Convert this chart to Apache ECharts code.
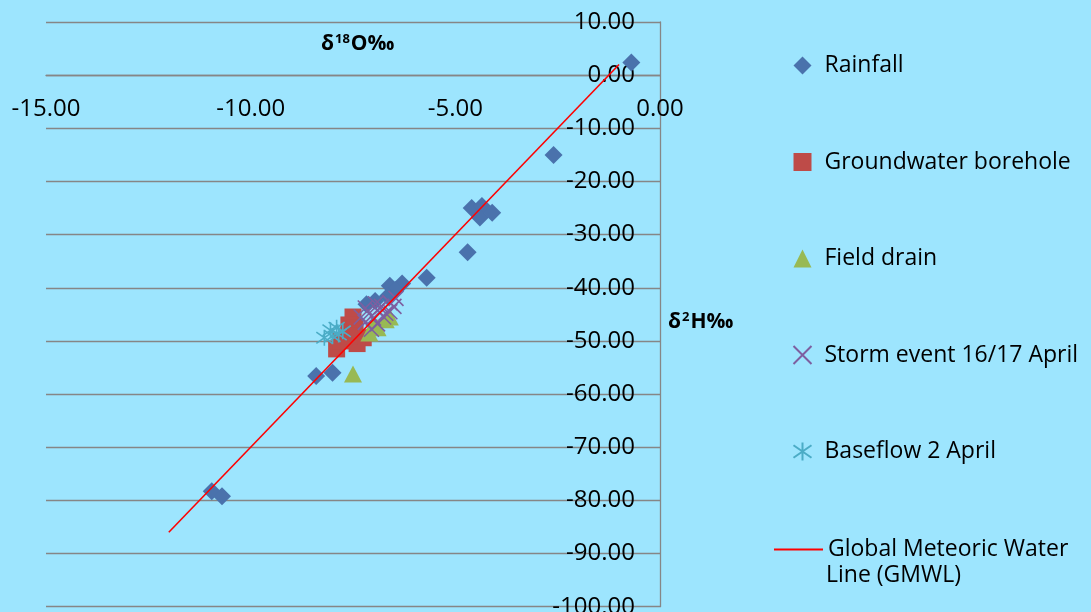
<!DOCTYPE html>
<html>
<head>
<meta charset="utf-8">
<script src="https://cdn.jsdelivr.net/npm/echarts@6/dist/echarts.min.js"></script>
<style>
html,body{margin:0;padding:0;background:#9DE5FE;}
#chart{width:1091px;height:612px;}
</style>
</head>
<body>
<div id="chart"></div>
<script>
// δ18O (x), δ2H (y)
var rainfall = [
  [-0.7, 2.4], [-2.6, -15.0], [-4.6, -25.0], [-4.35, -24.6], [-4.4, -26.8], [-4.1, -25.9],
  [-4.7, -33.3], [-5.7, -38.1], [-6.6, -39.6], [-6.3, -39.2], [-6.47, -40.4], [-6.65, -41.6],
  [-7.17, -43.1], [-6.96, -42.5], [-8.4, -56.6], [-8.0, -56.0], [-10.95, -78.3], [-10.7, -79.2]
];
var groundwater = [
  [-7.5, -45.5], [-7.6, -47.0], [-7.9, -51.5], [-7.8, -50.0], [-7.25, -49.4], [-7.4, -50.5],
  [-7.45, -47.5], [-7.6, -49.0]
];
var fieldDrain = [
  [-7.5, -56.2], [-6.6, -45.5], [-6.9, -47.5], [-7.1, -48.5], [-6.7, -46.0], [-7.0, -47.0]
];
var stormEvent = [
  [-7.3, -45.5], [-7.2, -46.5], [-7.1, -44.8], [-7.0, -45.7], [-6.9, -44.2], [-6.8, -43.5],
  [-6.7, -44.8], [-6.6, -42.8], [-6.5, -43.5], [-6.9, -46.8], [-7.05, -47.8], [-6.75, -45.5],
  [-6.6, -44.5], [-6.45, -42.0], [-7.2, -43.8], [-6.95, -43.0]
];
var baseflow = [
  [-8.2, -49.4], [-7.9, -47.5], [-7.75, -48.2], [-8.0, -49.1], [-7.85, -48.8], [-8.05, -48.0]
];
var gmwl = [[-12, -86], [-1, 2]];
var seriesNames = ['Rainfall', 'Groundwater borehole', 'Field drain', 'Storm event 16/17 April', 'Baseflow 2 April', 'Global Meteoric Water Line (GMWL)'];

var font = '"Open Sans", "Noto Sans", sans-serif';
var chart = echarts.init(document.getElementById('chart'), null, {renderer: 'canvas'});
var crossPath = 'path://M0,0L10,10M10,0L0,10';
var starPath = 'path://M5,0L5,10M0,1.5L10,8.5M10,1.5L0,8.5';

var gridTop = 22, gridBottom = 5.3;
var plotH = 612 - gridTop - gridBottom;
// offset moving the x axis from the grid bottom up to the y = 0 line
var xAxisOffset = -(plotH * 100 / 110);

chart.setOption({
  backgroundColor: '#9DE5FE',
  animation: false,
  textStyle: {fontFamily: font},
  grid: {left: 46, right: 431, top: gridTop, bottom: gridBottom, containLabel: false, outerBoundsMode: 'none'},
  xAxis: {
    type: 'value', min: -15, max: 0, interval: 5, position: 'bottom', offset: xAxisOffset,
    axisLine: {onZero: false, lineStyle: {color: '#868686', width: 1.3}},
    axisTick: {show: false},
    splitLine: {show: false},
    axisLabel: {color: '#000', fontSize: 24, fontFamily: font, margin: 22,
      formatter: function (v) { return v.toFixed(2); }}
  },
  yAxis: {
    type: 'value', min: -100, max: 10, interval: 10, position: 'right',
    axisLine: {show: true, onZero: false, lineStyle: {color: '#868686', width: 1.3}},
    axisTick: {show: false},
    splitLine: {show: true, lineStyle: {color: '#868686', width: 1.3}},
    axisLabel: {color: '#000', fontSize: 24, fontFamily: font, margin: 25, inside: true,
      formatter: function (v) { return v.toFixed(2); }}
  },
  legend: [{
    orient: 'vertical', left: 786, top: 46, itemWidth: 18, itemHeight: 18, itemGap: 67.5,
    data: seriesNames.slice(0, 5),
    textStyle: {color: '#000', fontSize: 23, fontFamily: font, lineHeight: 29, padding: [0, 0, 0, 8]},
    selectedMode: false
  }, {
    orient: 'vertical', left: 769, top: 530, itemWidth: 49, itemHeight: 2,
    data: [{name: seriesNames[5], icon: 'rect'}],
    formatter: function () { return 'Global Meteoric Water'; },
    textStyle: {color: '#000', fontSize: 23, fontFamily: font, lineHeight: 29, padding: [0, 0, 0, 0]},
    selectedMode: false
  }],
  graphic: [
    {type: 'text', left: 826, top: 564, style: {text: 'Line (GMWL)', fill: '#000', font: '23px ' + font}},
    {type: 'text', left: 321, top: 33, style: {
      text: '{b|δ}{s|18}{b|O‰}',
      rich: {
        b: {fontSize: 21, fontWeight: 'bold', fontFamily: font, color: '#000'},
        s: {fontSize: 13, fontWeight: 'bold', fontFamily: font, color: '#000', padding: [0, 1, 9, 1]}
      }
    }},
    {type: 'text', left: 668, top: 311, style: {
      text: '{b|δ}{s|2}{b|H‰}',
      rich: {
        b: {fontSize: 21, fontWeight: 'bold', fontFamily: font, color: '#000'},
        s: {fontSize: 13, fontWeight: 'bold', fontFamily: font, color: '#000', padding: [0, 1, 9, 1]}
      }
    }}
  ],
  series: [
    {name: seriesNames[0], type: 'scatter', data: rainfall, symbol: 'diamond', symbolSize: 18,
      itemStyle: {color: '#4A72AC', opacity: 1}},
    {name: seriesNames[1], type: 'scatter', data: groundwater, symbol: 'rect', symbolSize: 17,
      itemStyle: {color: '#BE4B48', opacity: 1}},
    {name: seriesNames[2], type: 'scatter', data: fieldDrain, symbol: 'triangle', symbolSize: [18, 17],
      itemStyle: {color: '#98B954', opacity: 1}},
    {name: seriesNames[3], type: 'scatter', data: stormEvent, symbol: crossPath, symbolSize: 15,
      itemStyle: {color: 'none', borderColor: '#7D5FA0', borderWidth: 1.6, opacity: 1}},
    {name: seriesNames[4], type: 'scatter', data: baseflow, symbol: starPath, symbolSize: 16,
      itemStyle: {color: 'none', borderColor: '#4BACC6', borderWidth: 1.6, opacity: 1}},
    {name: seriesNames[5], type: 'line', data: gmwl, symbol: 'none', showSymbol: false,
      lineStyle: {color: '#FF0000', width: 1.6}, itemStyle: {color: '#FF0000'}}
  ]
});
</script>
</body>
</html>
